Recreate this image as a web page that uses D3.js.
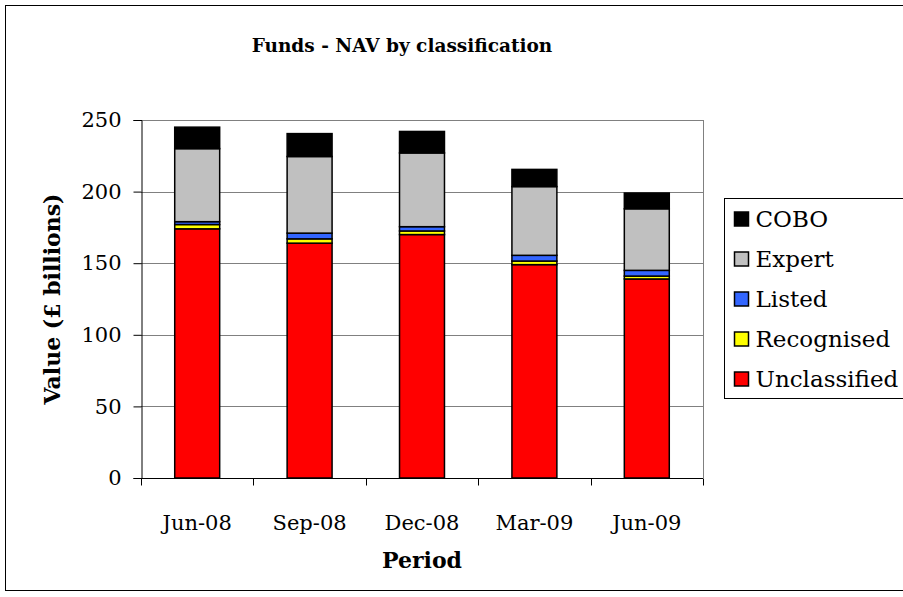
<!DOCTYPE html>
<html>
<head>
<meta charset="utf-8">
<script src="https://cdn.jsdelivr.net/npm/d3@7"></script>
<style>
    body { margin: 0; background: #fff; }
    text { font-family: "DejaVu Serif", serif; fill: #000; }
</style>
</head>
<body>
<div id="container"></div>
<script>
// chart data //

const periods = ['Jun-08', 'Sep-08', 'Dec-08', 'Mar-09', 'Jun-09']
const seriesNames = ['Unclassified', 'Recognised', 'Listed', 'Expert', 'COBO']
const unclassified = [174, 164, 170, 149, 139]
const recognised = [3, 3, 2.5, 2.5, 2]
const listed = [2, 4, 3, 4, 4]
const expert = [51, 53.5, 51.5, 48, 43]
const cobo = [15, 16, 15, 12, 11]
const seriesColors = ['#ff0000', '#ffff00', '#3366ff', '#c0c0c0', '#000000']
const yTicks = [0, 50, 100, 150, 200, 250]

// end chart data //

const width = 903
const height = 597
const plot = { left: 141, right: 703, top: 120, bottom: 478 }

const svg = d3
    .select('#container')
    .append('svg')
    .attr('width', width)
    .attr('height', height)

// outer chart border
svg.append('rect')
    .attr('x', 5.5)
    .attr('y', 5.5)
    .attr('width', 920)
    .attr('height', 585)
    .attr('fill', '#fff')
    .attr('stroke', '#000')

const rows = periods.map((p, i) => ({
    period: p,
    Unclassified: unclassified[i],
    Recognised: recognised[i],
    Listed: listed[i],
    Expert: expert[i],
    COBO: cobo[i]
}))

const stacked = d3.stack().keys(seriesNames)(rows)

const x = d3.scaleBand()
    .domain(periods)
    .range([plot.left, plot.right])
    .paddingInner(0.6)
    .paddingOuter(0.3)

const y = d3.scaleLinear()
    .domain([0, 250])
    .range([plot.bottom, plot.top])

// gridlines and plot border
svg.append('g')
    .selectAll('line')
    .data(yTicks.filter((t) => t > 0))
    .join('line')
    .attr('x1', plot.left)
    .attr('x2', plot.right)
    .attr('y1', (d) => Math.round(y(d)) + 0.5)
    .attr('y2', (d) => Math.round(y(d)) + 0.5)
    .attr('stroke', '#808080')

svg.append('line')
    .attr('x1', plot.right + 0.5)
    .attr('x2', plot.right + 0.5)
    .attr('y1', plot.top)
    .attr('y2', plot.bottom)
    .attr('stroke', '#808080')

// bars
svg.append('g')
    .selectAll('g')
    .data(stacked)
    .join('g')
    .attr('fill', (d, i) => seriesColors[i])
    .selectAll('rect')
    .data((d) => d)
    .join('rect')
    .attr('x', (d) => x(d.data.period))
    .attr('width', x.bandwidth())
    .attr('y', (d) => y(d[1]))
    .attr('height', (d) => y(d[0]) - y(d[1]))
    .attr('stroke', '#000')
    .attr('stroke-width', 1.5)

// y axis
const yAxis = svg.append('g')
    .attr('transform', `translate(${plot.left + 0.5},0)`)
    .call(d3.axisLeft(y).tickValues(yTicks).tickSize(8).tickPadding(12))
yAxis.select('.domain').attr('stroke', '#000')
yAxis.selectAll('.tick line').attr('stroke', '#000')
yAxis.selectAll('text')
    .style('font-family', '"DejaVu Serif", serif')
    .style('font-size', '21px')
    .attr('fill', '#000')

// x axis with ticks between categories
const xAxis = svg.append('g')
    .attr('transform', `translate(0,${plot.bottom + 0.5})`)
xAxis.append('line')
    .attr('x1', plot.left)
    .attr('x2', plot.right)
    .attr('stroke', '#000')
const step = x.step()
const boundaries = d3.range(periods.length + 1).map((i) => plot.left + i * step)
xAxis.selectAll('.xt')
    .data(boundaries)
    .join('line')
    .attr('class', 'xt')
    .attr('x1', (d) => Math.round(d) + 0.5)
    .attr('x2', (d) => Math.round(d) + 0.5)
    .attr('y1', 0)
    .attr('y2', 7)
    .attr('stroke', '#000')
xAxis.selectAll('.xl')
    .data(periods)
    .join('text')
    .attr('class', 'xl')
    .attr('x', (d) => x(d) + x.bandwidth() / 2)
    .attr('y', 51)
    .attr('text-anchor', 'middle')
    .style('font-size', '21px')
    .text((d) => d)

// titles
svg.append('text')
    .attr('x', 402)
    .attr('y', 52)
    .attr('text-anchor', 'middle')
    .style('font-size', '18.5px')
    .style('font-weight', 'bold')
    .text('Funds - NAV by classification')

svg.append('text')
    .attr('x', 422)
    .attr('y', 568)
    .attr('text-anchor', 'middle')
    .style('font-size', '22px')
    .style('font-weight', 'bold')
    .text('Period')

svg.append('text')
    .attr('transform', `translate(60,${(plot.top + plot.bottom) / 2}) rotate(-90)`)
    .attr('text-anchor', 'middle')
    .style('font-size', '22px')
    .style('font-weight', 'bold')
    .text('Value (£ billions)')

// legend
const legend = svg.append('g').attr('transform', 'translate(724.5,198.5)')
legend.append('rect')
    .attr('width', 200)
    .attr('height', 200)
    .attr('fill', '#fff')
    .attr('stroke', '#000')

const legendOrder = seriesNames.slice().reverse()
const legendColors = seriesColors.slice().reverse()
const item = legend.selectAll('.item')
    .data(legendOrder)
    .join('g')
    .attr('class', 'item')
    .attr('transform', (d, i) => `translate(0,${20.5 + i * 40})`)
item.append('rect')
    .attr('x', 10)
    .attr('y', -7)
    .attr('width', 14)
    .attr('height', 14)
    .attr('fill', (d, i) => legendColors[i])
    .attr('stroke', '#000')
    .attr('stroke-width', 1.5)
item.append('text')
    .attr('x', 31)
    .attr('y', 8)
    .style('font-size', '23px')
    .text((d) => d)
</script>
</body>
</html>
